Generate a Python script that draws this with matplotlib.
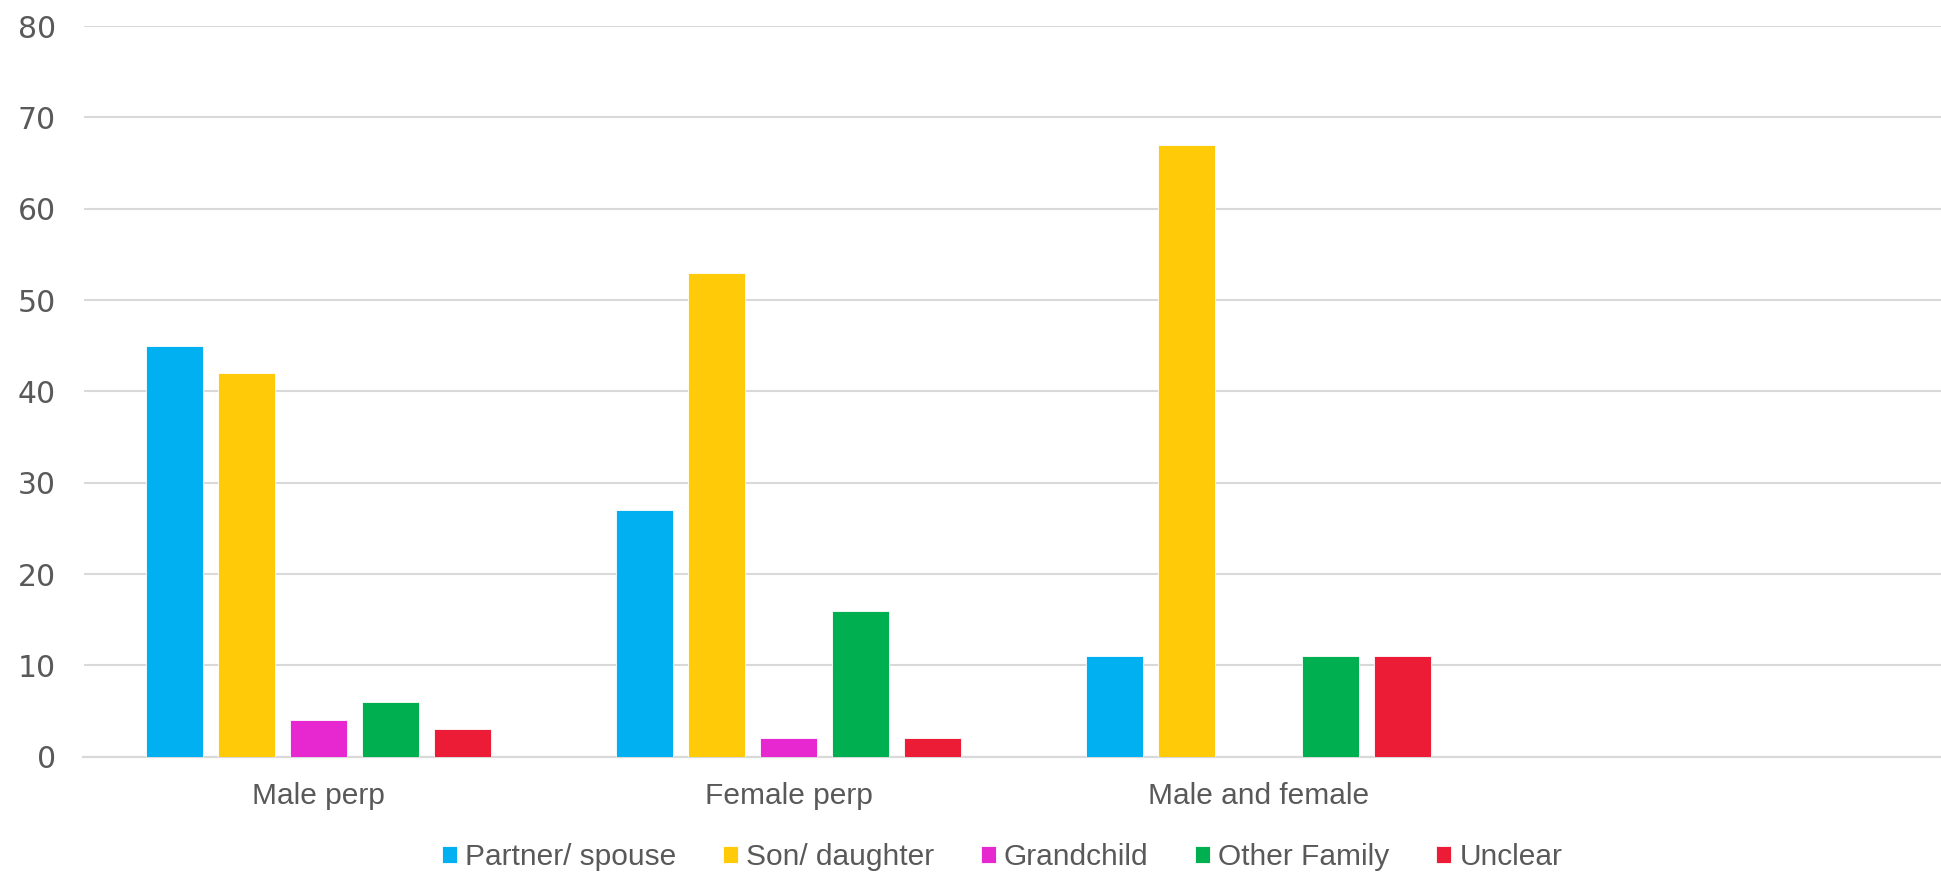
import matplotlib
matplotlib.use("Agg")
import matplotlib.pyplot as plt
import numpy as np

# Data
categories = ["Male perp", "Female perp", "Male and female", ""]
series_names = ["Partner/ spouse", "Son/ daughter", "Grandchild", "Other Family", "Unclear"]
partner_spouse = [45, 27, 11, 0]
son_daughter = [42, 53, 67, 0]
grandchild = [4, 2, 0, 0]
other_family = [6, 16, 11, 0]
unclear = [3, 2, 11, 0]
y_ticks = [0, 10, 20, 30, 40, 50, 60, 70, 80]

series_values = [partner_spouse, son_daughter, grandchild, other_family, unclear]
colors = ["#00B0F0", "#FFCA08", "#E727CF", "#00B050", "#EC1C37"]

plt.rcParams["font.family"] = ["Liberation Sans", "DejaVu Sans"]
text_color = "#595959"
grid_color = "#D9D9D9"

fig = plt.figure(figsize=(19.41, 8.74), dpi=100)
ax = fig.add_axes([83.5 / 1941, 1 - 756.7 / 874, 1 - 83.5 / 1941, (756.7 - 26) / 874])

x = np.arange(len(categories))
pitch = 0.153
width = 0.121
n = len(series_values)
for i, (name, vals, c) in enumerate(zip(series_names, series_values, colors)):
    offs = (i - (n - 1) / 2) * pitch
    ax.bar(x + offs, vals, width=width, color=c, label=name,
           edgecolor="white", linewidth=0.6, zorder=3)

ax.set_xlim(-0.5, -0.5 + (1941 - 83.5) / 470)
ax.set_ylim(0, 80)
ax.set_yticks(y_ticks)
ax.set_xticks(x)
ax.set_xticklabels(categories)

ax.yaxis.grid(True, color=grid_color, linewidth=1.5, zorder=0)
ax.set_axisbelow(True)
for side in ["top", "right", "left"]:
    ax.spines[side].set_visible(False)
ax.spines["bottom"].set_color(grid_color)
ax.spines["bottom"].set_linewidth(1.6)
ax.spines["bottom"].set_zorder(2)

ax.tick_params(axis="y", length=0, pad=20, labelsize=21.5, labelcolor=text_color)
for lbl in ax.get_yticklabels():
    lbl.set_fontfamily("DejaVu Sans")
ax.tick_params(axis="x", length=0, pad=18.5, labelsize=21.5, labelcolor=text_color)

leg = fig.legend(loc="center", bbox_to_anchor=(1002 / 1941, 1 - 857 / 874),
                 ncol=5, frameon=False, fontsize=21.5,
                 handlelength=0.5, handleheight=0.5, handletextpad=0.27,
                 columnspacing=1.57, borderaxespad=0)
for t in leg.get_texts():
    t.set_color(text_color)

fig.savefig("out.png", dpi=100, facecolor="white")
